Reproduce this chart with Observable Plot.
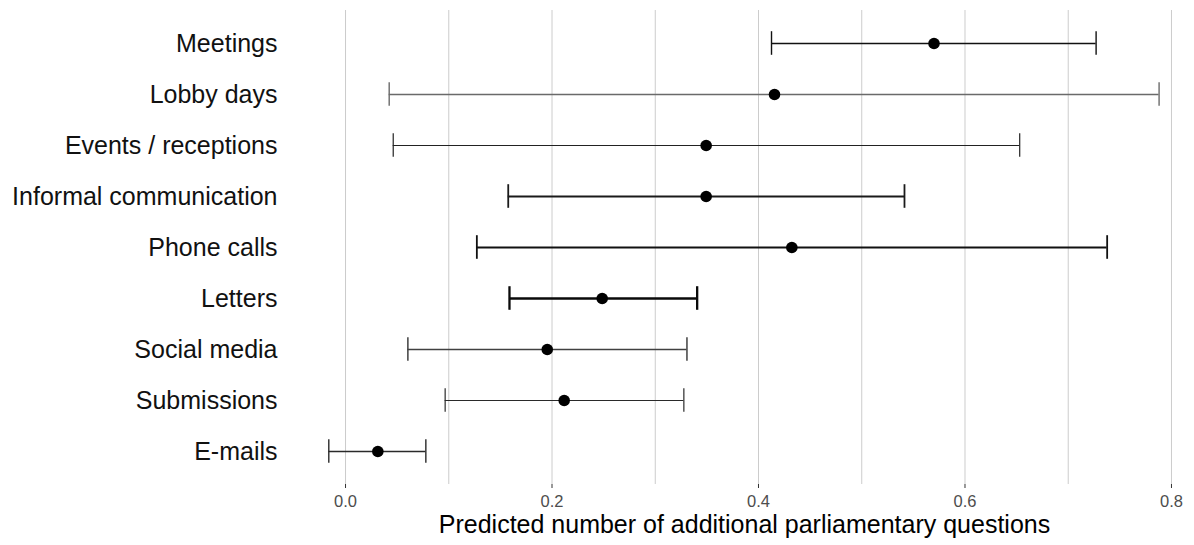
<!DOCTYPE html>
<html>
<head>
<meta charset="utf-8">
<script src="https://cdn.jsdelivr.net/npm/d3@7"></script>
<script src="https://cdn.jsdelivr.net/npm/@observablehq/plot@0.6"></script>
<style>
  html, body { margin: 0; padding: 0; background: #fff; overflow: hidden; }
  #chart svg { display: block; }
</style>
</head>
<body>
<div id="chart"></div>
<script>
// Categories, top to bottom
const categories = ["Meetings", "Lobby days", "Events / receptions", "Informal communication",
  "Phone calls", "Letters", "Social media", "Submissions", "E-mails"];
// Point estimates
const estimates = [0.570, 0.4155, 0.3493, 0.3493, 0.4323, 0.2486, 0.1954, 0.2118, 0.0313];
// Confidence interval lower bounds
const lower = [0.4126, 0.0423, 0.0462, 0.1576, 0.1272, 0.1588, 0.0604, 0.0965, -0.0162];
// Confidence interval upper bounds
const upper = [0.727, 0.788, 0.653, 0.5414, 0.7377, 0.3406, 0.3307, 0.3277, 0.0778];
// Axis ticks and gridlines
const xTicks = [0, 0.2, 0.4, 0.6, 0.8];
const xGrid = [0, 0.1, 0.2, 0.3, 0.4, 0.5, 0.6, 0.7, 0.8];
const xTitle = "Predicted number of additional parliamentary questions";

const data = categories.map((c, i) => ({category: c, est: estimates[i], lo: lower[i], hi: upper[i]}));

// Per-row line styling (visual only)
const lineStyle = {
  "Meetings": {w: 1.4, c: "#111111"},
  "Lobby days": {w: 1.4, c: "#6a6a6a"},
  "Events / receptions": {w: 1.2, c: "#222222"},
  "Informal communication": {w: 1.8, c: "#1a1a1a"},
  "Phone calls": {w: 1.8, c: "#111111"},
  "Letters": {w: 2.3, c: "#0a0a0a"},
  "Social media": {w: 1.5, c: "#404040"},
  "Submissions": {w: 1.2, c: "#2a2a2a"},
  "E-mails": {w: 1.4, c: "#2a2a2a"}
};

const width = 1194, height = 545;
const marginLeft = 287, marginRight = 0, marginTop = 10, marginBottom = 61;

const barMarks = [];
for (const d of data) {
  const s = lineStyle[d.category];
  barMarks.push(Plot.ruleY([d], {y: "category", x1: "lo", x2: "hi", stroke: s.c, strokeWidth: s.w}));
  barMarks.push(Plot.tickX([d], {y: "category", x: "lo", stroke: s.c, strokeWidth: s.w, insetTop: 11.2, insetBottom: 11.2}));
  barMarks.push(Plot.tickX([d], {y: "category", x: "hi", stroke: s.c, strokeWidth: s.w, insetTop: 11.2, insetBottom: 11.2}));
}

const chart = Plot.plot({
  width, height, marginLeft, marginRight, marginTop, marginBottom,
  style: {fontFamily: "'Liberation Sans', Arial, sans-serif", background: "#fff", overflow: "hidden"},
  x: {domain: [-0.0562, 0.8223]},
  y: {type: "band", domain: categories, paddingInner: 0.1, paddingOuter: 0.15},
  marks: [
    Plot.ruleX(xGrid, {stroke: "#cccccc", strokeWidth: 1}),
    Plot.axisX({ticks: xTicks, tickFormat: d3.format(".1f"), tickSize: 4, tickPadding: 7,
      stroke: "#333", fill: "#4d4d4d", fontSize: 16.5, label: null}),
    Plot.axisY({tickSize: 0, tickPadding: 10, fontSize: 25, fill: "#111", label: null}),
    ...barMarks,
    Plot.dot(data, {y: "category", x: "est", r: 5.8, fill: "#000", stroke: "none"}),
    Plot.text([xTitle], {text: d => d, frameAnchor: "bottom", dy: 48.5, dx: 3.5, fontSize: 25, fill: "#000"})
  ]
});
document.getElementById("chart").appendChild(chart);
</script>
</body>
</html>
